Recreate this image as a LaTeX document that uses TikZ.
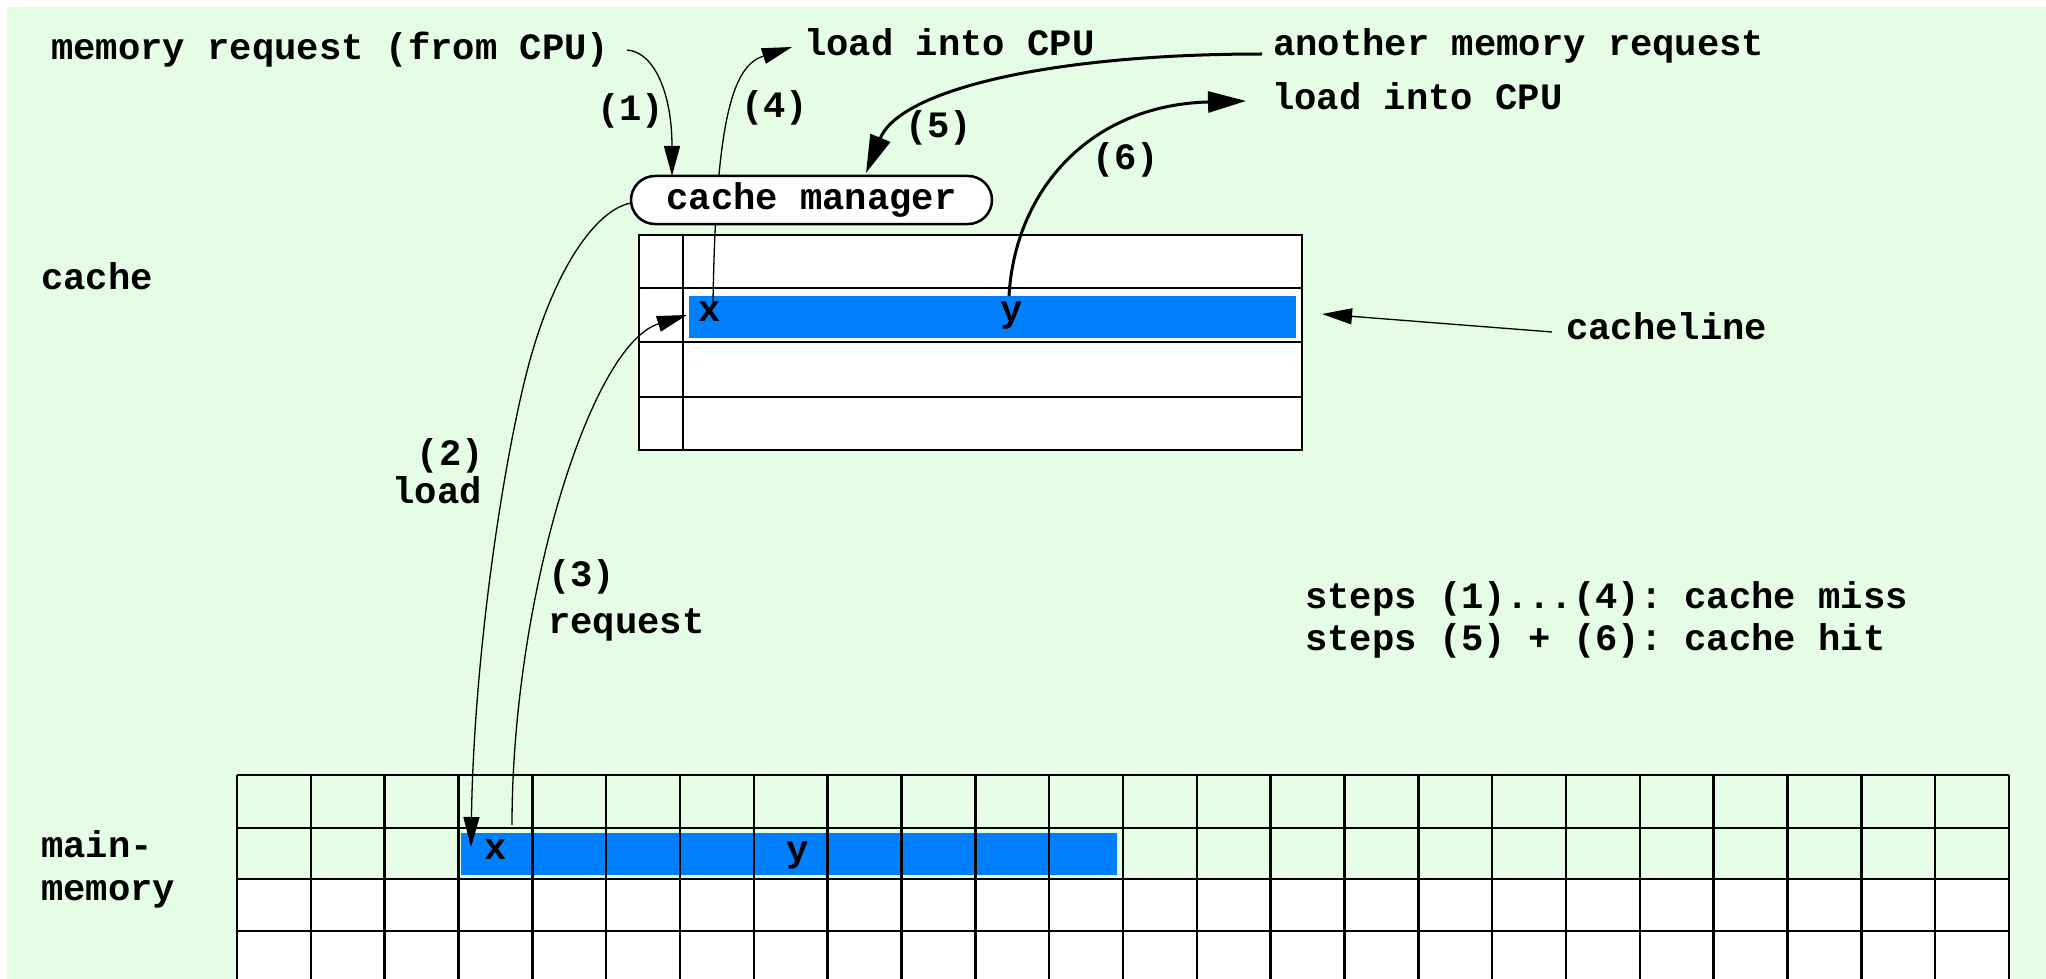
\documentclass[tikz,border=0pt]{standalone}
\usepackage{fontspec}
\setmonofont{Liberation Mono}
\usetikzlibrary{arrows.meta}
\definecolor{bggreen}{RGB}{228,253,228}
\definecolor{lineblue}{RGB}{0,128,255}
\newcommand\lblfont{\fontsize{37.2}{44}\selectfont\ttfamily\bfseries}
\tikzset{
  lbl/.style={font=\lblfont, inner sep=0pt, anchor=base west},
  lblr/.style={font=\lblfont, inner sep=0pt, anchor=base east},
  thinarrow/.style={line width=1.3pt, -{Triangle[length=30pt,width=16pt]}},
  thickarrow/.style={line width=3pt, -{Triangle[length=38pt,width=21pt]}},
  frame/.style={line width=2.5pt},
  manager/.style={draw, fill=white, line width=2.5pt, rounded corners=24pt,
    minimum width=361pt, minimum height=48pt, inner sep=0pt, font=\lblfont},
}
\begin{document}
\begin{tikzpicture}[x=1pt,y=-1pt]
\useasboundingbox (0,0) rectangle (2046,979);
\fill[white] (0,0) rectangle (2046,979);
\fill[bggreen] (7,7) rectangle (2046,979);

% cache: four lines, a tag column, one loaded line
\fill[white] (639,235) rectangle (1302,450);
\fill[lineblue] (689,296) rectangle (1296,338);
\draw[frame] (639,235) rectangle (1302,450);
\foreach \y in {288,342,397} \draw[frame] (639,\y) -- (1302,\y);
\draw[frame] (683,235) -- (683,450);

% main memory grid
\fill[white] (237,879) rectangle (2009,979);
\fill[lineblue] (461,833) rectangle (1117,875);
\foreach \y in {775,828,879,931} \draw[frame] (237,\y) -- (2009,\y);
\foreach \i [evaluate=\i as \xx using 237+\i*73.83] in {0,...,24}
  \draw[frame] (\xx,775) -- (\xx,979);

% labels
\node[lbl] (req) at (51,60) {memory request (from CPU)};
\node[lbl] (load1) at (804,56) {load into CPU};
\node[lbl] (another) at (1273,56) {another memory request};
\node[lbl] (load2) at (1272,110) {load into CPU};
\node[lbl] (n1) at (597,121) {(1)};
\node[lbl] (n4) at (741,118) {(4)};
\node[lbl] (n5) at (905,138) {(5)};
\node[lbl] (n6) at (1092,170) {(6)};
\node[lbl] (cachelbl) at (41,289) {cache};
\node[lbl] (cachelinelbl) at (1566,339) {cacheline};
\node[lbl] (steps1) at (1305,608) {steps (1)...(4): cache miss};
\node[lbl] (steps2) at (1305,650) {steps (5) + (6): cache hit};
\node[lbl] (mainlbl) at (41,857) {main-};
\node[lbl] (memlbl) at (41,900) {memory};
\node[lblr] (n2) at (484,465) {(2)};
\node[lblr] (loadlbl) at (482,503) {load};
\node[lbl] (n3) at (548,586) {(3)};
\node[lbl] (reqlbl) at (548,633) {request};

% data items
\node[lbl] (cx) at (698,321) {x};
\node[lbl] (cy) at (1000,321) {y};
\node[lbl] (mx) at (484,859) {x};
\node[lbl] (my) at (786,861) {y};

% connector end points
\coordinate (r1) at (627,50);
\coordinate (m1) at (672,176);
\coordinate (c4) at (713,302);
\coordinate (l4) at (792,47);
\coordinate (a5) at (1262,54);
\coordinate (m5) at (866,173);
\coordinate (c6) at (1009,296);
\coordinate (l6) at (1246,101);
\coordinate (m2) at (631,203);
\coordinate (x2) at (471,847);
\coordinate (x3) at (512,825);
\coordinate (c3) at (687,315);
\coordinate (cl) at (1552,332);
\coordinate (clt) at (1322,314);

% (4): value goes to the CPU, passing behind the manager
\draw[thinarrow] (c4) .. controls (716,110) and (735,65) .. (l4);

\node[manager] (mgr) at (811.5,200) {cache manager};

% (1) request from the CPU
\draw[thinarrow] (r1) .. controls (655,52) and (672,95) .. (m1);
% (2) load from main memory
\draw[thinarrow] (m2) .. controls (595,210) and (555,270) .. (530,360)
  .. controls (505,450) and (474,650) .. (x2);
% (3) request: line copied into the cache
\draw[thinarrow] (x3) .. controls (512,600) and (590,345) .. (c3);
% (5) second request, (6) cache hit
\draw[thickarrow] (a5) .. controls (1050,54) and (900,90) .. (m5);
\draw[thickarrow] (c6) .. controls (1015,190) and (1090,105) .. (l6);
% cacheline pointer
\draw[thinarrow] (cl) -- (clt);
\end{tikzpicture}
\end{document}
